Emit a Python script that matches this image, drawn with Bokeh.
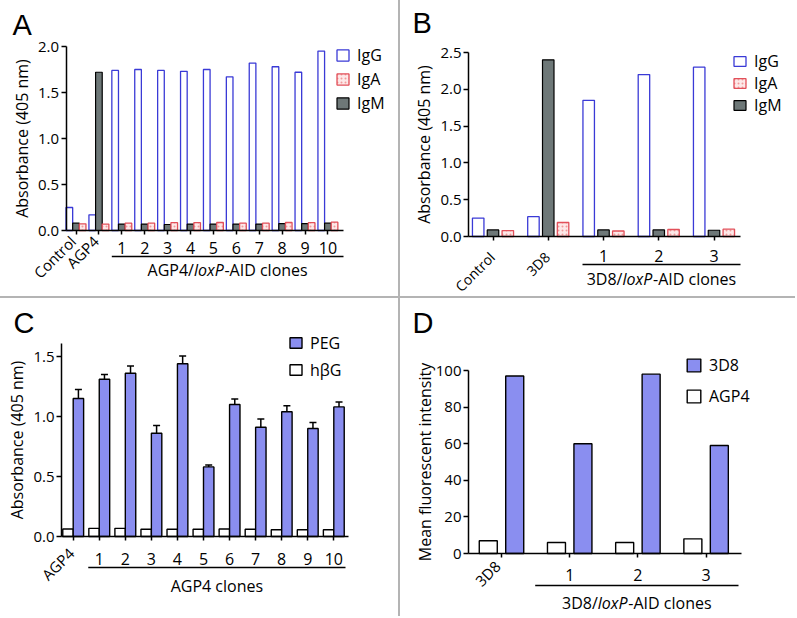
import numpy as np
from math import pi
from bokeh.plotting import figure
from bokeh.models import (Range1d, LinearAxis, FixedTicker, Legend, LegendItem,
                          ColumnDataSource, Whisker, TeeHead, Div, NumeralTickFormatter)
from bokeh.layouts import row, column
from bokeh.core.properties import value
from bokeh.embed import file_html
from bokeh.resources import INLINE

# ---------------- data ----------------
# Panel A
a_groups = ["Control", "AGP4", "1", "2", "3", "4", "5", "6", "7", "8", "9", "10"]
a_igg = [0.25, 0.17, 1.74, 1.75, 1.74, 1.73, 1.75, 1.67, 1.82, 1.78, 1.72, 1.95]
a_igm = [0.08, 1.72, 0.07, 0.07, 0.065, 0.07, 0.07, 0.07, 0.07, 0.075, 0.075, 0.08]
a_iga = [0.073, 0.07, 0.08, 0.08, 0.085, 0.085, 0.087, 0.08, 0.08, 0.087, 0.085, 0.09]

# Panel B
b_groups = ["Control", "3D8", "1", "2", "3"]
b_igg = [0.25, 0.27, 1.85, 2.20, 2.30]
b_igm = [0.09, 2.40, 0.09, 0.09, 0.085]
b_iga = [0.08, 0.19, 0.075, 0.095, 0.10]

# Panel C
c_groups = ["AGP4", "1", "2", "3", "4", "5", "6", "7", "8", "9", "10"]
c_peg = [1.15, 1.31, 1.36, 0.86, 1.44, 0.58, 1.10, 0.91, 1.04, 0.90, 1.08]
c_peg_err = [0.075, 0.04, 0.06, 0.065, 0.065, 0.015, 0.045, 0.07, 0.05, 0.05, 0.04]
c_hbg = [0.063, 0.068, 0.068, 0.06, 0.06, 0.06, 0.063, 0.06, 0.056, 0.056, 0.056]

# Panel D
d_groups = ["3D8", "1", "2", "3"]
d_3d8 = [97, 60, 98, 59]
d_agp4 = [7, 6, 6, 8]

# ---------------- style ----------------
FONT = "Open Sans"
LETTER_FONT = "Liberation Sans"
BLUE_LINE = "#3a3ad6"
PINK_LINE = "#e2505a"
PINK_FILL = "#fde8e8"
PINK_DOT = "#f09a9a"
GRAY_FILL = "#6e7878"
PERI = "#8a8ef0"
DIV_COLOR = "#b4b4b4"
ITEM_H = 22

W_L, W_R, H_T, H_B = 398, 395, 296, 318

OS_W = {"A": .633, "G": .718, "P": .604, "4": .572, "/": .371, "l": .258, "o": .602,
        "x": .523, "-": .322, "I": .279, "D": .720, " ": .26, "c": .480, "n": .613,
        "e": .561, "s": .479, "3": .572, "8": .572}


def text_width(s, size, italic=False):
    w = sum(OS_W.get(ch, 0.55) for ch in s) * size
    return w * (0.96 if italic else 1.0)


class Panel:
    def __init__(self, W, H, cx0, step, y0px, ypu):
        self.W, self.H, self.cx0, self.step, self.y0px, self.ypu = W, H, cx0, step, y0px, ypu
        self.p = figure(width=W, height=H,
                        x_range=Range1d(-cx0 / step, (W - cx0) / step),
                        y_range=Range1d(-(H - y0px) / ypu, y0px / ypu),
                        x_axis_type=None, y_axis_type=None, toolbar_location=None,
                        output_backend="svg", min_border=0, outline_line_color=None,
                        background_fill_color="white", border_fill_color="white")

    def X(self, px):
        return (px - self.cx0) / self.step

    def Y(self, py):
        return (self.y0px - py) / self.ypu

    def dx(self, px):
        return px / self.step


def style_axis(ax, tick_size):
    ax.axis_line_color = "black"
    ax.axis_line_width = 1.5
    ax.major_tick_line_color = "black"
    ax.major_tick_line_width = 1.5
    ax.major_tick_in = 0
    ax.major_tick_out = 5
    ax.minor_tick_line_color = None
    ax.major_label_text_font = FONT
    ax.major_label_text_font_size = tick_size
    ax.major_label_text_color = "black"
    ax.axis_label_text_font = FONT
    ax.axis_label_text_font_size = "16px"
    ax.axis_label_text_font_style = "normal"
    ax.axis_label_text_color = "black"


def add_axes(P, axis_px, xend_px, ytop, yticks, yfmt, ylabel, labels, rotated, x_standoff, ylab_standoff):
    x_axis = P.X(axis_px)
    ya = LinearAxis(fixed_location=x_axis, bounds=(0, ytop), ticker=FixedTicker(ticks=yticks),
                    formatter=NumeralTickFormatter(format=yfmt), axis_label=ylabel)
    style_axis(ya, "15px")
    ya.major_label_standoff = 2
    ya.axis_label_standoff = ylab_standoff
    P.p.add_layout(ya, "left")
    n = len(labels)
    xa = LinearAxis(fixed_location=0, bounds=(x_axis, P.X(xend_px)),
                    ticker=FixedTicker(ticks=list(range(n))),
                    major_label_overrides={i: ("" if i in rotated else labels[i]) for i in range(n)})
    style_axis(xa, "16px")
    xa.major_tick_out = 4
    xa.major_label_standoff = x_standoff
    P.p.add_layout(xa, "below")


def bars(P, vals, offset, width, **kw):
    src = ColumnDataSource(dict(x=np.arange(len(vals)) + offset, top=vals))
    return P.p.vbar(x="x", top="top", bottom=0, width=width, source=src, **kw)


def rot_labels(P, labels, idx, y_pxs, dx_px, size="15px"):
    src = ColumnDataSource(dict(x=[i + P.dx(dx_px) for i in idx],
                                y=[P.Y(v) for v in y_pxs],
                                t=[labels[i] for i in idx]))
    P.p.text(x="x", y="y", text="t", angle=pi / 4, text_align="right", text_baseline="middle",
             text_font=value(FONT), text_font_size=size, text_color="black", source=src)


def group_title(P, first_idx, half_px, xend_px, line_y_px, title_y_px, parts):
    x0 = first_idx - P.dx(half_px)
    x1 = P.X(xend_px)
    P.p.segment(x0=[x0], y0=[P.Y(line_y_px)], x1=[x1], y1=[P.Y(line_y_px)],
                line_color="black", line_width=1.3)
    cx_px = P.cx0 + P.step * (x0 + x1) / 2
    widths = [text_width(t, 16, it) for t, it in parts]
    start = cx_px - sum(widths) / 2
    for (t, it), w in zip(parts, widths):
        P.p.text(x=[P.X(start)], y=[P.Y(title_y_px)], text=[t], text_align="left",
                 text_baseline="middle", text_font=value(FONT), text_font_size="16px",
                 text_font_style="italic" if it else "normal", text_color="black")
        start += w


def add_legend(P, items, left_px, glyph_top_px, step_px, gw, gh):
    item_h = max(ITEM_H, gh)
    spacing = max(0, int(round(step_px - item_h)))
    n = len(items)
    leg_h = n * item_h + (n - 1) * spacing
    top = glyph_top_px - (item_h - gh) / 2
    leg = Legend(items=[LegendItem(label=l, renderers=[r]) for l, r in items],
                 location=(left_px, P.H - top - leg_h), orientation="vertical",
                 glyph_width=gw, glyph_height=gh, label_standoff=7, spacing=spacing,
                 padding=0, margin=0, border_line_color=None, background_fill_alpha=0,
                 label_text_font=FONT, label_text_font_size="16px", label_height=20,
                 label_text_color="black")
    P.p.add_layout(leg)


def letter(P, t, x_px, base_px):
    P.p.text(x=[P.X(x_px)], y=[P.Y(base_px)], text=[t], text_font=value(LETTER_FONT),
             text_font_size="29px", text_baseline="alphabetic", text_align="left",
             text_color="black")


IGG = dict(fill_color="white", line_color=BLUE_LINE, line_width=1.3)
IGM = dict(fill_color=GRAY_FILL, line_color="black", line_width=1.2)
IGA = dict(fill_color=PINK_FILL, line_color=PINK_LINE, line_width=1.3,
           hatch_pattern="dot", hatch_color=PINK_DOT, hatch_scale=4, hatch_weight=1)

# ---------------- Panel A ----------------
A = Panel(W_L, H_T, cx0=75.5, step=22.9, y0px=230, ypu=92)
bw = 0.29
ra_g = bars(A, a_igg, -bw, bw, **IGG)
ra_m = bars(A, a_igm, 0, bw, **IGM)
ra_a = bars(A, a_iga, bw, bw, **IGA)
add_axes(A, 65.5, 343, 2.0, [0, 0.5, 1.0, 1.5, 2.0], "0.0", "Absorbance (405 nm)",
         a_groups, [0, 1], x_standoff=7, ylab_standoff=2)
rot_labels(A, a_groups, [0, 1], [238, 238], -3)
group_title(A, 2, 10, 343, 256, 269, [("AGP4/", False), ("loxP", True), ("-AID clones", False)])
add_legend(A, [("IgG", ra_g), ("IgA", ra_a), ("IgM", ra_m)], 335, 48, 24.5, 15, 14)
letter(A, "A", 12, 24)

# ---------------- Panel B ----------------
B = Panel(W_R, H_T, cx0=92.5, step=55.25, y0px=236, ypu=73.6)
bw = 0.208
off = 0.268
rb_g = bars(B, b_igg, -off, bw, **IGG)
rb_m = bars(B, b_igm, 0, bw, **IGM)
rb_a = bars(B, b_iga, off, bw, **IGA)
add_axes(B, 68, 340, 2.5, [0, 0.5, 1.0, 1.5, 2.0, 2.5], "0.0", "Absorbance (405 nm)",
         b_groups, [0, 1], x_standoff=9, ylab_standoff=2)
rot_labels(B, b_groups, [0, 1], [254, 254], -1, size="14px")
group_title(B, 2, 21, 340, 264, 278, [("3D8/", False), ("loxP", True), ("-AID clones", False)])
add_legend(B, [("IgG", rb_g), ("IgA", rb_a), ("IgM", rb_m)], 332, 55, 21.5, 15, 12)
letter(B, "B", 12, 22)

# ---------------- Panel C ----------------
C = Panel(W_L, H_B, cx0=72.7, step=26.06, y0px=238, ypu=120)
bw = 0.4
rc_h = bars(C, c_hbg, -0.2, bw, fill_color="white", line_color="black", line_width=1.4)
rc_p = bars(C, c_peg, 0.2, bw, fill_color=PERI, line_color="black", line_width=1.4)
err_src = ColumnDataSource(dict(x=np.arange(len(c_peg)) + 0.2, base=c_peg,
                                upper=np.array(c_peg) + np.array(c_peg_err)))
C.p.add_layout(Whisker(source=err_src, base="x", lower="base", upper="upper", dimension="height",
                       line_color="black", line_width=1.5, lower_head=None,
                       upper_head=TeeHead(size=7, line_color="black", line_width=1.5)))
add_axes(C, 61, 348, 1.608, [0, 0.5, 1.0, 1.5], "0.0", "Absorbance (405 nm)",
         c_groups, [0], x_standoff=12, ylab_standoff=2)
rot_labels(C, c_groups, [0], [252], -2)
group_title(C, 1, 11, 345, 269, 287, [("AGP4 clones", False)])
add_legend(C, [("PEG", rc_p), ("h\u03b2G", rc_h)], 288, 38, 27, 15, 13)
letter(C, "C", 13, 24)

# ---------------- Panel D ----------------
D = Panel(W_R, H_B, cx0=101, step=68.2, y0px=255, ypu=1.83)
bw = 0.264
rd_a = bars(D, d_agp4, -0.194, bw, fill_color="white", line_color="black", line_width=1.4)
rd_3 = bars(D, d_3d8, 0.194, bw, fill_color=PERI, line_color="black", line_width=1.4)
add_axes(D, 68, 341, 100, [0, 20, 40, 60, 80, 100], "0", "Mean fluorescent intensity",
         d_groups, [0], x_standoff=11, ylab_standoff=-3)
rot_labels(D, d_groups, [0], [265], -4)
group_title(D, 1, 34.5, 338, 287, 304, [("3D8/", False), ("loxP", True), ("-AID clones", False)])
add_legend(D, [("3D8", rd_3), ("AGP4", rd_a)], 285, 59, 31, 17, 16)
letter(D, "D", 12, 24)


# ---------------- layout ----------------
def vdiv(h):
    return Div(text="", width=2, height=h, margin=0, styles={"background-color": DIV_COLOR})


top = row(A.p, vdiv(H_T), B.p)
hdiv = Div(text="", width=W_L + 2 + W_R, height=2, margin=0, styles={"background-color": DIV_COLOR})
bottom = row(C.p, vdiv(H_B), D.p)
layout = column(top, hdiv, bottom)

open("out.html", "w").write(file_html(layout, INLINE))
